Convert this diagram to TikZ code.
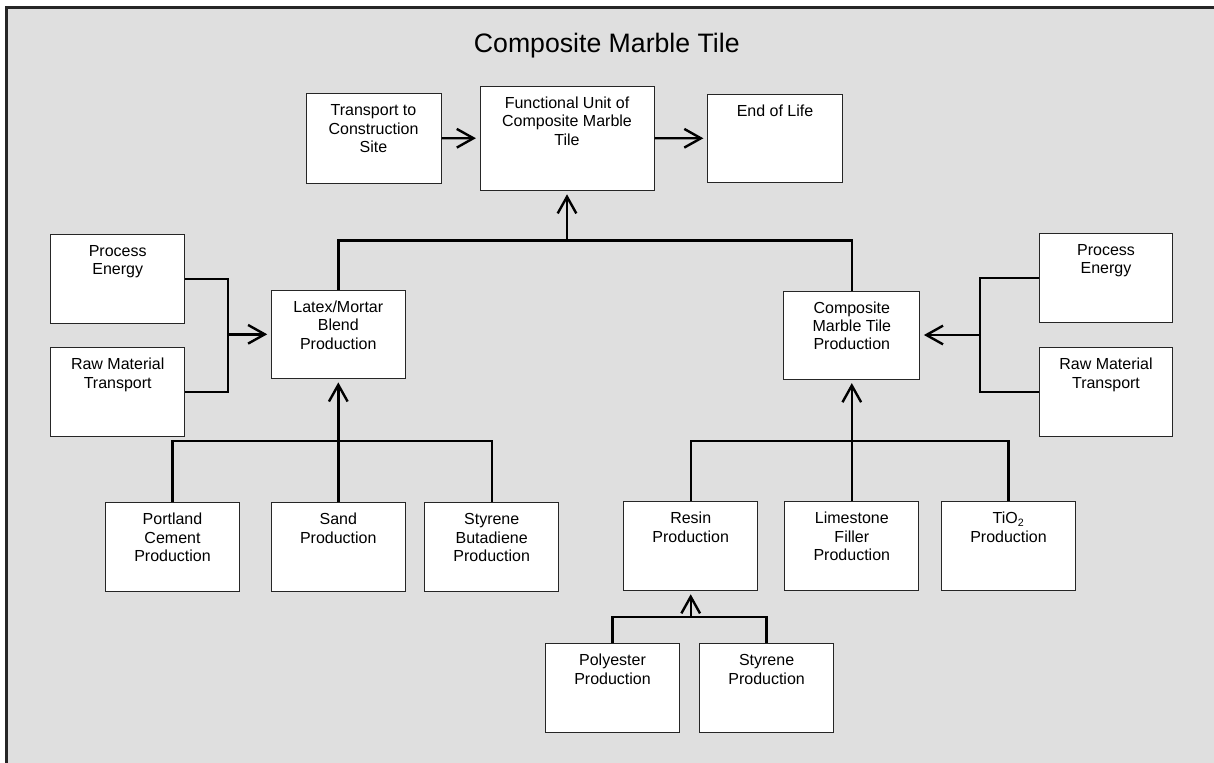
\documentclass[tikz,border=0pt]{standalone}
\usepackage{fontspec}
\setmainfont{Liberation Sans}
\usetikzlibrary{arrows.meta}
\newdimen\pxu \pxu=0.75pt
\definecolor{bggray}{HTML}{DFDFDF}
\newcommand{\bt}[3]{\parbox[c][#2\pxu][t]{#1\pxu}{\centering\rule{0pt}{22.2\pxu}#3}}
\tikzset{
  boxnode/.style={draw=black!85, line width=0.75pt, fill=white, inner sep=0pt,
    font=\fontsize{12pt}{13.75pt}\selectfont},
  conn/.style={line width=1.8pt},
  arr/.style={conn, -{Straight Barb[length=12.5pt,width=14pt]}, shorten >=2.7pt}
}
\begin{document}
\begin{tikzpicture}[x=0.75pt,y=-0.75pt]
\useasboundingbox (0,0) rectangle (1214,763);
\fill[white] (0,0) rectangle (1214,763);
\begin{scope}
\clip (0,0) rectangle (1214,763);
\draw[fill=bggray, draw=black!85, line width=1.7pt] (6.5,7.5) rectangle (1230,780);
\end{scope}

\node[font=\fontsize{20pt}{24pt}\selectfont, anchor=base] (title) at (606.8,52.5) {Composite Marble Tile};

\node[boxnode] (trans) at (373.5,138.3) {\bt{135}{89.5}{Transport to\\Construction\\Site}};
\node[boxnode] (fu) at (567,138.2) {\bt{174}{104}{Functional Unit of\\Composite Marble\\Tile}};
\node[boxnode] (eol) at (775,138.3) {\bt{135}{88.5}{End of Life}};

\node[boxnode] (pe1) at (117.7,278.8) {\bt{134}{89}{Process\\Energy}};
\node[boxnode] (rm1) at (117.7,392) {\bt{134}{88.5}{Raw Material\\Transport}};
\node[boxnode] (latex) at (338.3,334.3) {\bt{134}{88}{Latex/Mortar\\Blend\\Production}};

\node[boxnode] (cmt) at (851.8,335) {\bt{136}{88}{Composite\\Marble Tile\\Production}};
\node[boxnode] (pe2) at (1106,277.8) {\bt{133.5}{89}{Process\\Energy}};
\node[boxnode] (rm2) at (1106,392) {\bt{133.5}{88.5}{Raw Material\\Transport}};

\node[boxnode] (portland) at (172.5,547) {\bt{133.5}{88.5}{Portland\\Cement\\Production}};
\node[boxnode] (sand) at (338.3,547) {\bt{133.5}{88.5}{Sand\\Production}};
\node[boxnode] (sb) at (491.7,547) {\bt{134}{88.5}{Styrene\\Butadiene\\Production}};

\node[boxnode] (resin) at (690.7,545.9) {\bt{134}{88.5}{Resin\\Production}};
\node[boxnode] (lime) at (851.8,546) {\bt{134}{88.5}{Limestone\\Filler\\Production}};
\node[boxnode] (tio2) at (1008.5,546) {\bt{134}{88.5}{TiO\textsubscript{2}\\Production}};

\node[boxnode] (poly) at (612.5,687.8) {\bt{134}{88.5}{Polyester\\Production}};
\node[boxnode] (sty) at (766.6,687.8) {\bt{134}{88.5}{Styrene\\Production}};

% top row arrows
\draw[arr] (trans.east) -- (fu.west);
\draw[arr] (fu.east) -- (eol.west);

% top bus
\coordinate (topbus) at (567,240.7);
\draw[conn] (latex.north) |- (topbus) -| (cmt.north);
\draw[arr] (topbus) -- (fu.south);

% left bracket
\coordinate (lbr) at (227.7,334.3);
\draw[conn] (pe1.east) -| (lbr) |- (rm1.east);
\draw[arr] (lbr) -- (latex.west);

% right bracket
\coordinate (rbr) at (979.7,335);
\draw[conn] (pe2.west) -| (rbr) |- (rm2.west);
\draw[arr] (rbr) -- (cmt.east);

% lower left bus
\coordinate (lbus) at (338.3,441);
\draw[conn] (portland.north) |- (lbus) -| (sb.north);
\draw[arr] (sand.north) -- (latex.south);

% lower right bus
\coordinate (rbus) at (851.8,441);
\draw[conn] (resin.north) |- (rbus) -| (tio2.north);
\draw[arr] (lime.north) -- (cmt.south);

% resin bus
\coordinate (resbus) at (690.7,616.7);
\draw[conn] (poly.north) |- (resbus) -| (sty.north);
\draw[arr] (resbus) -- (resin.south);
\end{tikzpicture}
\end{document}
